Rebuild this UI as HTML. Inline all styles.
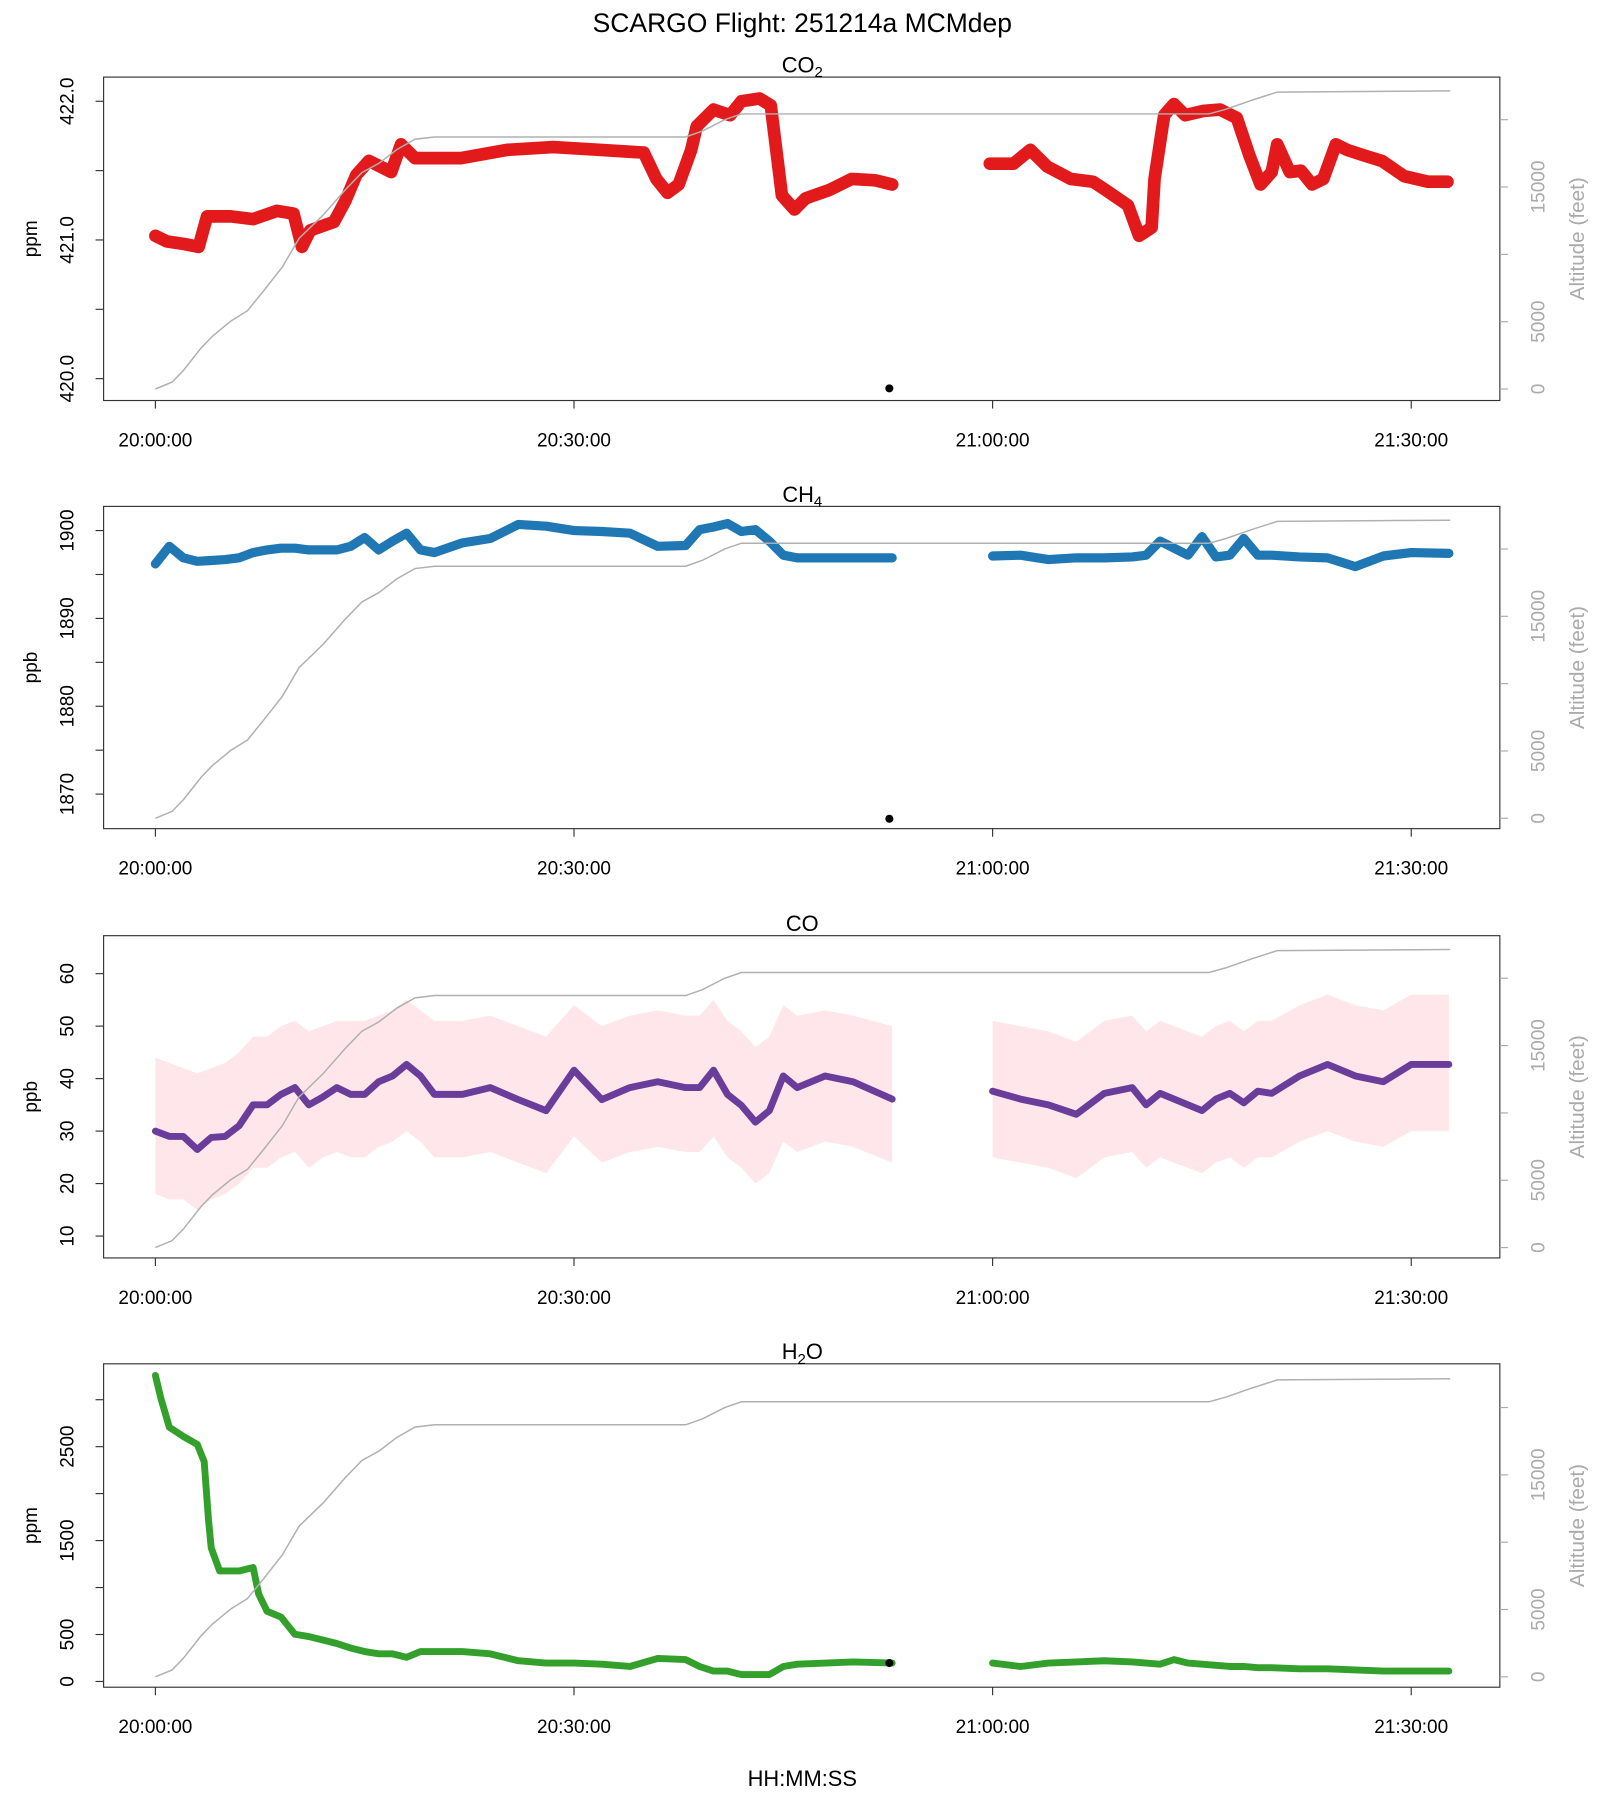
<!DOCTYPE html>
<html><head><meta charset="utf-8"><style>
html,body{margin:0;padding:0;background:#fff;}
svg{display:block;font-family:"Liberation Sans",Arial,sans-serif;}
</style></head><body>
<svg id="chart" width="1600" height="1800" viewBox="0 0 1390 1564" preserveAspectRatio="none" xmlns="http://www.w3.org/2000/svg">
<text x="697" y="28" font-size="23" text-anchor="middle">SCARGO Flight: 251214a  MCMdep</text>
<text x="697" y="1552" font-size="19" text-anchor="middle">HH:MM:SS</text>
</svg>
<script>
// ---- data (times in minutes after 20:00:00) ----
const altT = [0,1.2,2,3.3,4.1,5.4,6.6,7.8,9.1,10.3,12,13.6,14.8,16,17.3,18.6,20,38,39.2,40.8,42,75.5,76.7,78.6,80.4,92.8];
const altFt = [0,510,1370,3080,3930,5040,5810,7350,9060,11200,12900,14790,16070,16750,17780,18550,18720,18720,19150,20000,20430,20430,20770,21450,22050,22140];

const co2T1 = [0,0.8,2.1,3.1,3.7,5.4,7.0,8.7,9.9,10.5,11.1,12.8,13.6,14.4,15.3,16.1,16.9,17.6,18.6,21.9,25.2,28.5,31.8,35.0,35.9,36.7,37.5,38.4,38.8,40.0,41.2,42.0,43.3,44.1,44.5,44.9,45.8,46.6,48.3,49.9,51.6,52.8];
const co2V1 = [421.03,420.99,420.97,420.95,421.17,421.17,421.15,421.21,421.19,420.95,421.07,421.13,421.28,421.47,421.57,421.53,421.49,421.69,421.59,421.59,421.65,421.67,421.65,421.63,421.44,421.34,421.40,421.65,421.82,421.94,421.90,422.00,422.02,421.97,421.65,421.32,421.22,421.30,421.36,421.44,421.43,421.40];
const co2T2 = [59.8,61.5,62.7,63.9,65.6,67.2,68.1,69.7,70.5,71.4,71.6,72.3,73.0,73.8,75.1,76.3,77.5,78.4,79.2,80.0,80.4,81.3,82.1,82.9,83.7,84.6,85.4,86.6,87.9,89.5,91.2,92.6];
const co2V2 = [421.55,421.55,421.65,421.53,421.44,421.42,421.36,421.25,421.03,421.09,421.44,421.90,421.98,421.90,421.93,421.94,421.88,421.61,421.40,421.49,421.69,421.49,421.50,421.40,421.44,421.69,421.65,421.61,421.57,421.46,421.42,421.42];

const gridT1 = [0,1,2,3,4,5,6,7,8,9,10,11,12,13,14,15,16,17,18,19,20,22,24,26,28,30,32,34,36,38,39,40,41,42,43,44,45,46,48,50,52.8];
const gridT2 = [60,62,64,66,68,70,71,72,73,74,75,76,77,78,79,80,82,84,86,88,90,92.7];

const ch4V1 = [1896.2,1898.2,1896.9,1896.5,1896.6,1896.7,1896.9,1897.5,1897.8,1898.0,1898.0,1897.8,1897.8,1897.8,1898.2,1899.2,1897.8,1898.8,1899.7,1897.8,1897.5,1898.6,1899.1,1900.7,1900.5,1900.0,1899.9,1899.7,1898.2,1898.3,1900.1,1900.4,1900.8,1899.9,1900.1,1898.8,1897.2,1896.9,1896.9,1896.9,1896.9];
const ch4V2 = [1897.1,1897.2,1896.7,1896.9,1896.9,1897.0,1897.2,1898.8,1898.0,1897.2,1899.3,1897.0,1897.2,1899.1,1897.2,1897.2,1897.0,1896.9,1895.9,1897.1,1897.5,1897.4];

const coV1 = [30,29,29,26.5,28.8,29,31,35,35,37,38.3,35,36.5,38.3,37,37,39.4,40.5,42.7,40.5,37,37,38.3,36,33.9,41.6,36,38.3,39.4,38.3,38.3,41.6,37,34.9,31.7,33.9,40.5,38.3,40.5,39.4,36.1];
const coV2 = [37.6,36.1,35,33.2,37.2,38.3,35,37.2,36.1,35,33.9,36.1,37.2,35.4,37.6,37.2,40.5,42.7,40.5,39.4,42.7,42.7];
const coHi1 = [44,43,42,41,42,43,45,48,48,50,51,49,50,51,51,51,52,53,55,53,51,51,52,50,48,54,50,52,53,52,52,55,51,49,46,48,54,52,53,52,50];
const coLo1 = [18,17,17,15,17,18,20,23,23,25,26,23,25,26,25,25,27,28,30,28,25,25,26,24,22,29,24,26,27,26,26,29,25,23,20,22,28,26,28,27,24];
const coHi2 = [51,50,49,47,51,52,49,51,50,49,48,50,51,49,51,51,54,56,54,53,56,56];
const coLo2 = [25,24,23,21,25,26,23,25,24,23,22,24,25,23,25,25,28,30,28,27,30,30];

const h2oT1 = [0,0.4,1,2,3,3.5,3.8,4,4.6,6,7,7.4,8,9,10,11,12,13,14,15,16,17,18,19,20,22,24,26,28,30,32,34,36,38,39,40,41,42,43,44,45,46,48,50,52.8];
const h2oV1 = [3259,3014,2707,2609,2524,2340,1727,1421,1176,1176,1213,931,747,686,502,478,441,404,355,319,294,294,257,319,319,319,294,221,196,196,184,159,245,233,159,110,110,74,74,74,159,184,196,208,196];
const h2oV2 = [196,159,196,208,221,208,196,184,233,196,184,172,159,159,147,147,135,135,123,110,110,110];

const timeTicks = [0,30,60,90];
const timeLabels = ["20:00:00","20:30:00","21:00:00","21:30:00"];
const altTicks = [0,5000,10000,15000,20000];
const altLabels = ["0","5000","","15000",""];

// ---- layout ----
const NS = "http://www.w3.org/2000/svg";
const svg = document.getElementById("chart");
const X0 = 90, X1 = 1303;
const xScale = t => 135 + t * (1226 - 135) / 90;
function el(tag, attrs, parent) {
  const e = document.createElementNS(NS, tag);
  for (const k in attrs) e.setAttribute(k, attrs[k]);
  (parent || svg).appendChild(e);
  return e;
}
function txt(s, attrs, parent) { const e = el("text", attrs, parent); e.textContent = s; return e; }

const panels = [
  {name:"co2", top:67, bot:348, vmin:420, vmax:422, yTop:88, yBot:329, unit:"ppm",
   ticks:[420,420.5,421,421.5,422], labels:["420.0","","421.0","","422.0"], altZero:338},
  {name:"ch4", top:440, bot:720, vmin:1870, vmax:1900, yTop:461, yBot:690, unit:"ppb",
   ticks:[1870,1875,1880,1885,1890,1895,1900], labels:["1870","","1880","","1890","","1900"], altZero:711},
  {name:"co", top:813, bot:1093, vmin:10, vmax:60, yTop:1074-228, yBot:1074, unit:"ppb",
   ticks:[10,20,30,40,50,60], labels:["10","20","30","40","50","60"], altZero:1084},
  {name:"h2o", top:1185, bot:1466, vmin:0, vmax:2500, yTop:1257, yBot:1461, unit:"ppm",
   ticks:[0,500,1000,1500,2000,2500,3000], labels:["0","500","","1500","","2500",""], altZero:1457}
];
const altPxPer5000 = 58.5;

panels.forEach((p, i) => {
  const g = el("g", {});
  
  
  const y = v => p.yBot - (v - p.vmin) * (p.yBot - p.yTop) / (p.vmax - p.vmin);
  const ya = a => p.altZero - a * altPxPer5000 / 5000;
  const box = el("rect", {x:X0, y:p.top, width:X1-X0, height:p.bot-p.top, fill:"none", stroke:"#333", "stroke-width":1}, g);
  
  
  p.ticks.forEach((tv, k) => {
    el("line", {x1:X0-7, x2:X0, y1:y(tv), y2:y(tv), stroke:"#333"}, g);
    if (p.labels[k]) {
      const lt = txt(p.labels[k], {x:0, y:0, "font-size":16.5, "text-anchor":"middle", transform:`translate(64,${y(tv)}) rotate(-90)`}, g);
      
      
    }
  });
  const yl = txt(p.unit, {x:0, y:0, "font-size":16.5, "text-anchor":"middle", transform:`translate(32,${(p.top+p.bot)/2}) rotate(-90)`}, g);
  
  
  altTicks.forEach((a, k) => {
    el("line", {x1:X1, x2:X1+7, y1:ya(a), y2:ya(a), stroke:"#aaa"}, g);
    if (altLabels[k]) {
      const at = txt(altLabels[k], {x:0, y:0, "font-size":16.5, fill:"#aaa", "text-anchor":"middle", transform:`translate(1342,${ya(a)}) rotate(-90)`}, g);
      
      
    }
  });
  const ral = txt("Altitude (feet)", {x:0, y:0, "font-size":18, fill:"#aaa", "text-anchor":"middle", transform:`translate(1376,${(p.top+p.bot)/2}) rotate(-90)`}, g);
  
  
  timeTicks.forEach((t, k) => {
    el("line", {x1:xScale(t), x2:xScale(t), y1:p.bot, y2:p.bot+7, stroke:"#333"}, g);
    const xt = txt(timeLabels[k], {x:xScale(t), y:p.bot+40, "font-size":16.5, "text-anchor":"middle"}, g);
    
    
  });
  const tt = el("text", {x:697, y:p.top-4, "font-size":19, "text-anchor":"middle"}, g);
  
  
  const sub = {co2:["CO","2"], ch4:["CH","4"], co:["CO",""], h2o:["H","2","O"]}[p.name];
  const t1 = el("tspan", {}, tt); t1.textContent = sub[0];
  if (sub[1]) { const t2 = el("tspan", {"font-size":13, dy:4}, tt); t2.textContent = sub[1]; }
  if (sub[2]) { const t3 = el("tspan", {dy:-4}, tt); t3.textContent = sub[2]; }

  const series = (T, V, color, w, name) => {
    const pts = T.map((t, k) => xScale(t).toFixed(1) + "," + y(V[k]).toFixed(1)).join(" ");
    const pl = el("polyline", {points:pts, fill:"none", stroke:color, "stroke-width":w, "stroke-linejoin":"round", "stroke-linecap":"round"}, g);
    
    
  };
  const band = (T, HI, LO, name) => {
    const up = T.map((t, k) => xScale(t).toFixed(1) + "," + y(HI[k]).toFixed(1));
    const dn = T.map((t, k) => xScale(t).toFixed(1) + "," + y(LO[k]).toFixed(1)).reverse();
    const pg = el("polygon", {points:up.concat(dn).join(" "), fill:"#ffc0cb", "fill-opacity":0.4}, g);
    
    
  };
  const dot = (t, v, name) => {
    const c = el("circle", {cx:xScale(t), cy:y(v), r:3.5, fill:"#000"}, g);
    
    
  };

  if (p.name === "co2") {
    series(co2T1, co2V1, "#e31a1c", 11, "co2-series-1");
    series(co2T2, co2V2, "#e31a1c", 11, "co2-series-2");
    dot(52.6, 419.93, "co2-outlier-point");
  } else if (p.name === "ch4") {
    series(gridT1, ch4V1, "#1f78b4", 8, "ch4-series-1");
    series(gridT2, ch4V2, "#1f78b4", 8, "ch4-series-2");
    dot(52.6, 1867.2, "ch4-outlier-point");
  } else if (p.name === "co") {
    band(gridT1, coHi1, coLo1, "co-raw-scatter-1");
    band(gridT2, coHi2, coLo2, "co-raw-scatter-2");
    series(gridT1, coV1, "#6a3d9a", 6, "co-smoothed-series-1");
    series(gridT2, coV2, "#6a3d9a", 6, "co-smoothed-series-2");
  } else {
    series(h2oT1, h2oV1, "#33a02c", 6, "h2o-series-1");
    series(gridT2, h2oV2, "#33a02c", 6, "h2o-series-2");
    dot(52.6, 196, "h2o-outlier-point");
  }
  const apts = altT.map((t, k) => xScale(t).toFixed(1) + "," + ya(altFt[k]).toFixed(1)).join(" ");
  const al = el("polyline", {points:apts, fill:"none", stroke:"#b0b0b0", "stroke-width":1.3}, g);
  
  
});
</script>
</body></html>
